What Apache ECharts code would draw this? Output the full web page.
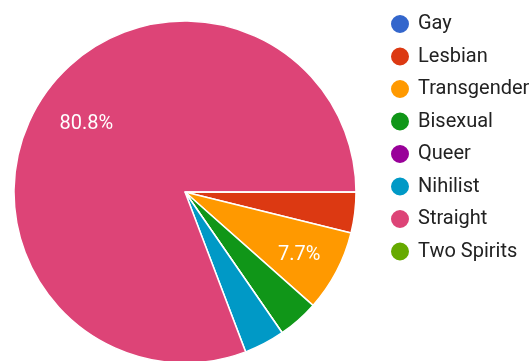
<!DOCTYPE html>
<html>
<head>
<meta charset="utf-8">
<script src="https://cdn.jsdelivr.net/npm/echarts@6/dist/echarts.min.js"></script>
<style>html,body{margin:0;padding:0;background:#fff}#c{width:530px;height:361px}</style>
</head>
<body>
<div id="c"></div>
<script>
const categories = ['Gay', 'Lesbian', 'Transgender', 'Bisexual', 'Queer', 'Nihilist', 'Straight', 'Two Spirits'];
const counts = [0, 1, 2, 1, 0, 1, 21, 0];
const colors = ['#3366cc', '#dc3912', '#ff9900', '#109618', '#990099', '#0099c6', '#dd4477', '#66aa00'];

const data = categories.map((n, i) => ({ name: n, value: counts[i], itemStyle: { color: colors[i] } }));
const total = counts.reduce((a, b) => a + b, 0);

const chart = echarts.init(document.getElementById('c'), null, { renderer: 'canvas' });
chart.setOption({
  animation: false,
  color: colors,
  legend: {
    orient: 'vertical',
    left: 384,
    top: 8,
    icon: 'circle',
    itemWidth: 20,
    itemHeight: 20,
    itemGap: 10.5,
    data: categories.map((n, i) => ({ name: n, itemStyle: { color: colors[i] } })),
    textStyle: { fontFamily: 'Roboto', fontSize: 20, color: '#222', lineHeight: 20, padding: [0, 0, 0, 3] }
  },
  series: [
    {
      type: 'pie',
      center: [185, 192],
      radius: [0, 171],
      startAngle: 0,
      clockwise: true,
      percentPrecision: 1,
      label: { show: false },
      labelLine: { show: false },
      itemStyle: { borderColor: '#fff', borderWidth: 1.5 },
      emphasis: { disabled: true },
      data: data
    },
    {
      type: 'pie',
      silent: true,
      center: [185, 192],
      radius: [93, 141],
      startAngle: 0,
      clockwise: true,
      percentPrecision: 1,
      itemStyle: { color: 'rgba(0,0,0,0)' },
      labelLine: { show: false },
      label: {
        show: true,
        position: 'inside',
        color: '#fff',
        fontFamily: 'Roboto',
        fontSize: 20,
        formatter: p => (p.value / total > 0.05 ? p.percent.toFixed(1) + '%' : '')
      },
      labelLayout: p => (p.dataIndex === 2 ? { dx: 8, dy: 7 } : {}),
      emphasis: { disabled: true },
      data: categories.map((n, i) => ({ name: n, value: counts[i] }))
    }
  ]
});
</script>
</body>
</html>
